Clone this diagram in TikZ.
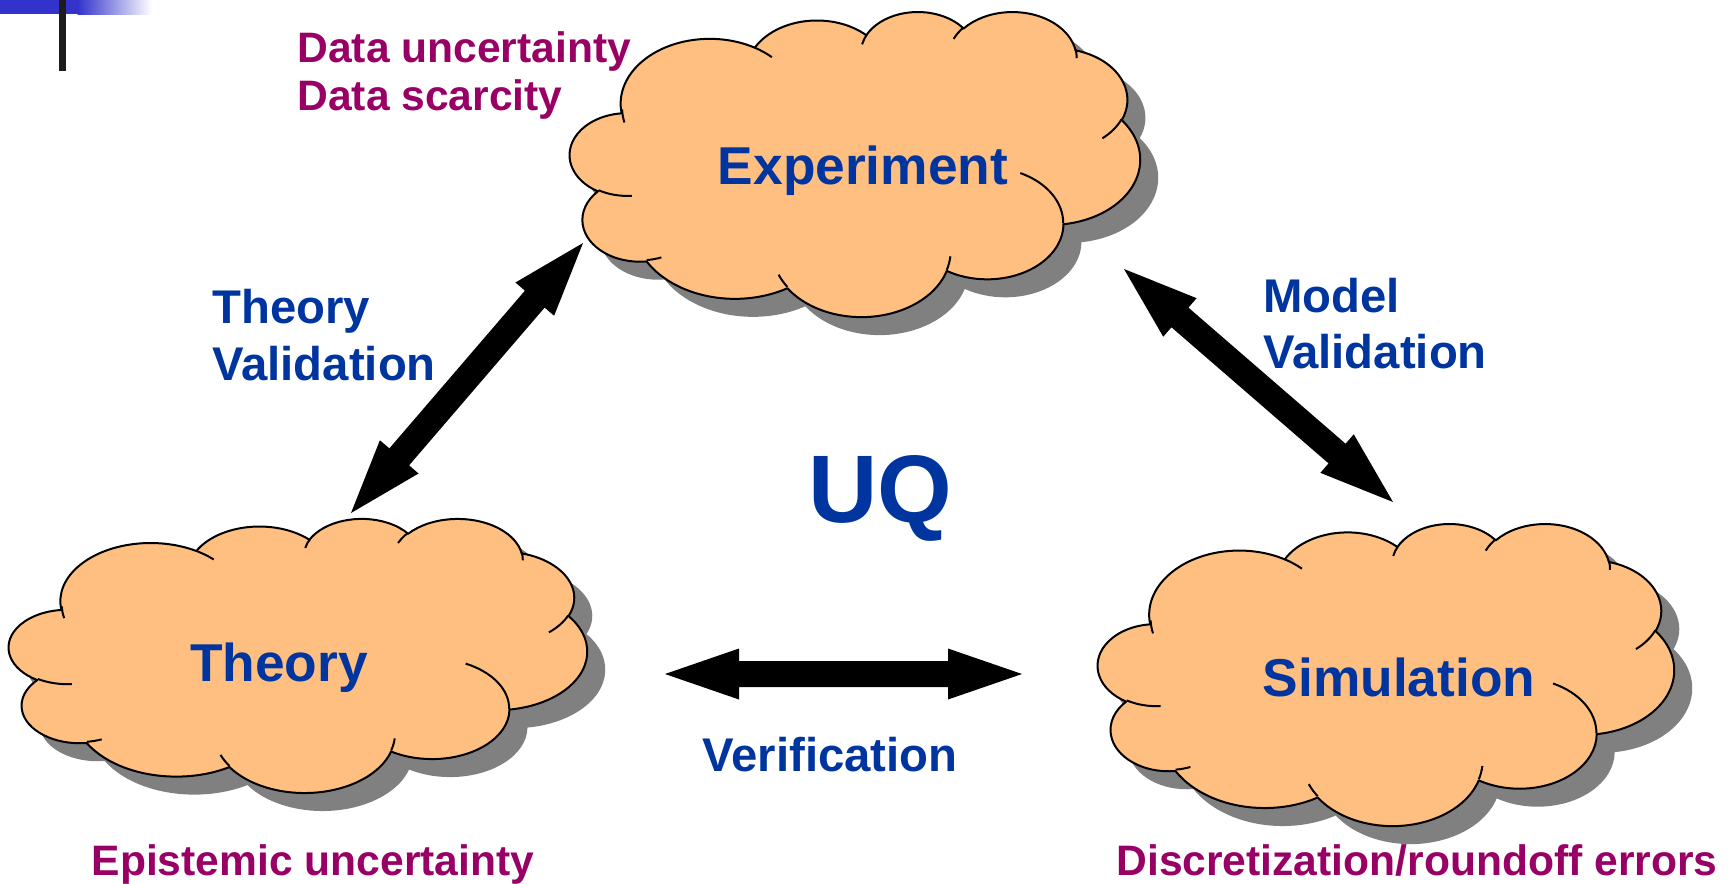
\documentclass[tikz,border=0pt]{standalone}
\usepackage{fontspec}
\setmainfont{Liberation Sans}
\usetikzlibrary{calc}

\definecolor{cloudfill}{HTML}{FFBF80}
\definecolor{cloudshadow}{HTML}{808080}
\definecolor{labelblue}{HTML}{0035A0}
\definecolor{notepurple}{HTML}{990066}
\definecolor{barblue}{HTML}{3333CC}
\definecolor{barblack}{HTML}{1C1C1C}

% One elliptical arc of the cloud outline; the angles are measured from the
% centre of the ellipse, so they are turned into parametric angles first.
\newcommand\cldarc[4]{%
  \pgfextra{%
    \pgfmathparse{atan2((#1)*sin(#3),(#2)*cos(#3))}\global\let\cldT\pgfmathresult
    \pgfmathparse{atan2((#1)*sin((#3)+(#4)),(#2)*cos((#3)+(#4)))}\global\let\cldE\pgfmathresult
    \pgfmathparse{mod((\cldE)-(\cldT)+720,360)}\global\let\cldD\pgfmathresult
  }
  arc[start angle=\cldT, delta angle=\cldD, x radius=#1, y radius=#2]%
}

% Cloud outline in a 43.2 x 43.2 box
\newcommand\cloudbody{%
  (3.9,14.37)
  \cldarc{6.753}{9.190}{-190.48748}{123.78053}
  \cldarc{5.333}{7.267}{-144.10238}{89.94523}
  \cldarc{4.365}{5.945}{-145.80792}{99.72302}
  \cldarc{4.857}{6.595}{-130.98607}{117.24173}
  \cldarc{5.333}{7.273}{-78.70888}{109.02692}
  \cldarc{6.775}{9.220}{-46.26725}{130.269}
  \cldarc{5.785}{7.867}{0.62502}{114.03333}
  \cldarc{6.752}{9.215}{22.4516}{115.17255}
  \cldarc{7.720}{10.543}{66.24263}{75.71102}
  \cldarc{4.360}{5.918}{-274.94208}{146.73557}
  \cldarc{4.345}{5.945}{-246.8285}{152.51885}
  -- cycle}

% Inner folds of the cloud
\newcommand\clouddetail{%
  (4.693,26.177) \cldarc{4.345}{5.945}{86.742}{26.4295}
  (6.928,34.899) \cldarc{4.360}{5.918}{73.61047}{11.44747}
  (16.478,39.090) \cldarc{6.752}{9.215}{137.62415}{14.0811}
  (28.827,34.751) \cldarc{6.752}{9.215}{6.45327}{15.99835}
  (34.129,22.954) \cldarc{5.785}{7.867}{-70.29235}{70.91737}
  (41.798,15.354) \cldarc{5.333}{7.273}{30.31803}{27.7515}
  (38.324,5.426) \cldarc{4.857}{6.595}{-13.74433}{14.8589}
  (29.078,3.952) \cldarc{4.857}{6.595}{-149.18145}{18.19537}
  (22.141,4.720) \cldarc{4.365}{5.945}{-163.49427}{17.68635}
  (14.000,5.192) \cldarc{6.753}{9.190}{-66.70695}{12.31935}
  (4.127,15.789) \cldarc{6.753}{9.190}{162.04742}{15.63755}}

% #1 name, #2 #3 top-left corner, #4 #5 scale of the 43.2 box
\newcommand\uqcloud[5]{%
  \begin{scope}[shift={(#2+18,#3+18)}, xscale=#4, yscale=#5]
    \fill[cloudshadow] \cloudbody;
  \end{scope}
  \begin{scope}[shift={(#2,#3)}, xscale=#4, yscale=#5]
    \filldraw[cloudline, fill=cloudfill] \cloudbody;
    \draw[cloudline] \clouddetail;
    \coordinate (#1) at (21.6,21.6);
  \end{scope}}

% Thick double-headed block arrow between two named points
\newcommand\blockarrow[2]{%
  \coordinate (#1h) at ($(#1)!37pt!(#2)$);
  \coordinate (#2h) at ($(#2)!37pt!(#1)$);
  \fill[black] (#1) -- ($(#1h)!12.75pt!90:(#2)$) -- ($(#1h)!6.5pt!90:(#2)$)
    -- ($(#2h)!6.5pt!-90:(#1)$) -- ($(#2h)!12.75pt!-90:(#1)$) -- (#2)
    -- ($(#2h)!12.75pt!90:(#1)$) -- ($(#2h)!6.5pt!90:(#1)$)
    -- ($(#1h)!6.5pt!-90:(#2)$) -- ($(#1h)!12.75pt!-90:(#2)$) -- cycle;}

\tikzset{
  cloudline/.style={draw=black, line width=1pt, line join=round},
  notetext/.style={text=notepurple, inner sep=0pt,
    font=\bfseries\fontsize{21.3pt}{25pt}\selectfont},
  linktext/.style={text=labelblue, inner sep=0pt,
    font=\bfseries\fontsize{23.65pt}{28pt}\selectfont},
  cloudtext/.style={text=labelblue, inner sep=0pt,
    font=\bfseries\fontsize{26.65pt}{32pt}\selectfont},
  bigtext/.style={text=labelblue, inner sep=0pt,
    font=\bfseries\fontsize{48pt}{56pt}\selectfont},
}

\begin{document}
\begin{tikzpicture}[x=0.5pt, y=-0.5pt]
  \useasboundingbox (0,0) rectangle (1736,884);

  % corner decoration
  \fill[barblue] (0,0) rectangle (78,14);
  \shade[left color=barblue, right color=white] (77.5,0) rectangle (152,14);
  \fill[barblack] (59,0) rectangle (66,71);

  % clouds
  \uqcloud{expcloud}{570}{11}{13.194}{7.060}
  \uqcloud{thecloud}{9}{518}{13.380}{6.343}
  \uqcloud{simcloud}{1098}{523}{13.333}{6.991}

  % cloud labels
  \node[cloudtext, anchor=base] (experiment) at (863,184) {Experiment};
  \node[cloudtext, anchor=base] (theory) at (279,681) {Theory};
  \node[cloudtext, anchor=base] (simulation) at (1399,696) {Simulation};

  % uncertainty notes
  \node[notetext, anchor=base west] (dataunc) at (297,62) {Data uncertainty};
  \node[notetext, anchor=base west] (datascar) at (297,110) {Data scarcity};
  \node[notetext, anchor=base] (epist) at (313,875) {Epistemic uncertainty};
  \node[notetext, anchor=base] (discr) at (1417,875) {Discretization/roundoff errors};

  % link labels
  \node[linktext, anchor=base west] (tvone) at (212,323) {Theory};
  \node[linktext, anchor=base west] (tvtwo) at (212,380) {Validation};
  \node[linktext, anchor=base west] (mvone) at (1263,312) {Model};
  \node[linktext, anchor=base west] (mvtwo) at (1263,368) {Validation};
  \node[linktext, anchor=base] (verif) at (830,771) {Verification};

  \node[bigtext, anchor=base] (uq) at (880,522) {UQ};

  % arrows
  \coordinate (tva) at (351,513);
  \coordinate (tvb) at (583,243);
  \coordinate (mva) at (1124,269);
  \coordinate (mvb) at (1393,502);
  \coordinate (vea) at (665,674);
  \coordinate (veb) at (1022,674);
  \blockarrow{tva}{tvb}
  \blockarrow{mva}{mvb}
  \blockarrow{vea}{veb}
\end{tikzpicture}
\end{document}
